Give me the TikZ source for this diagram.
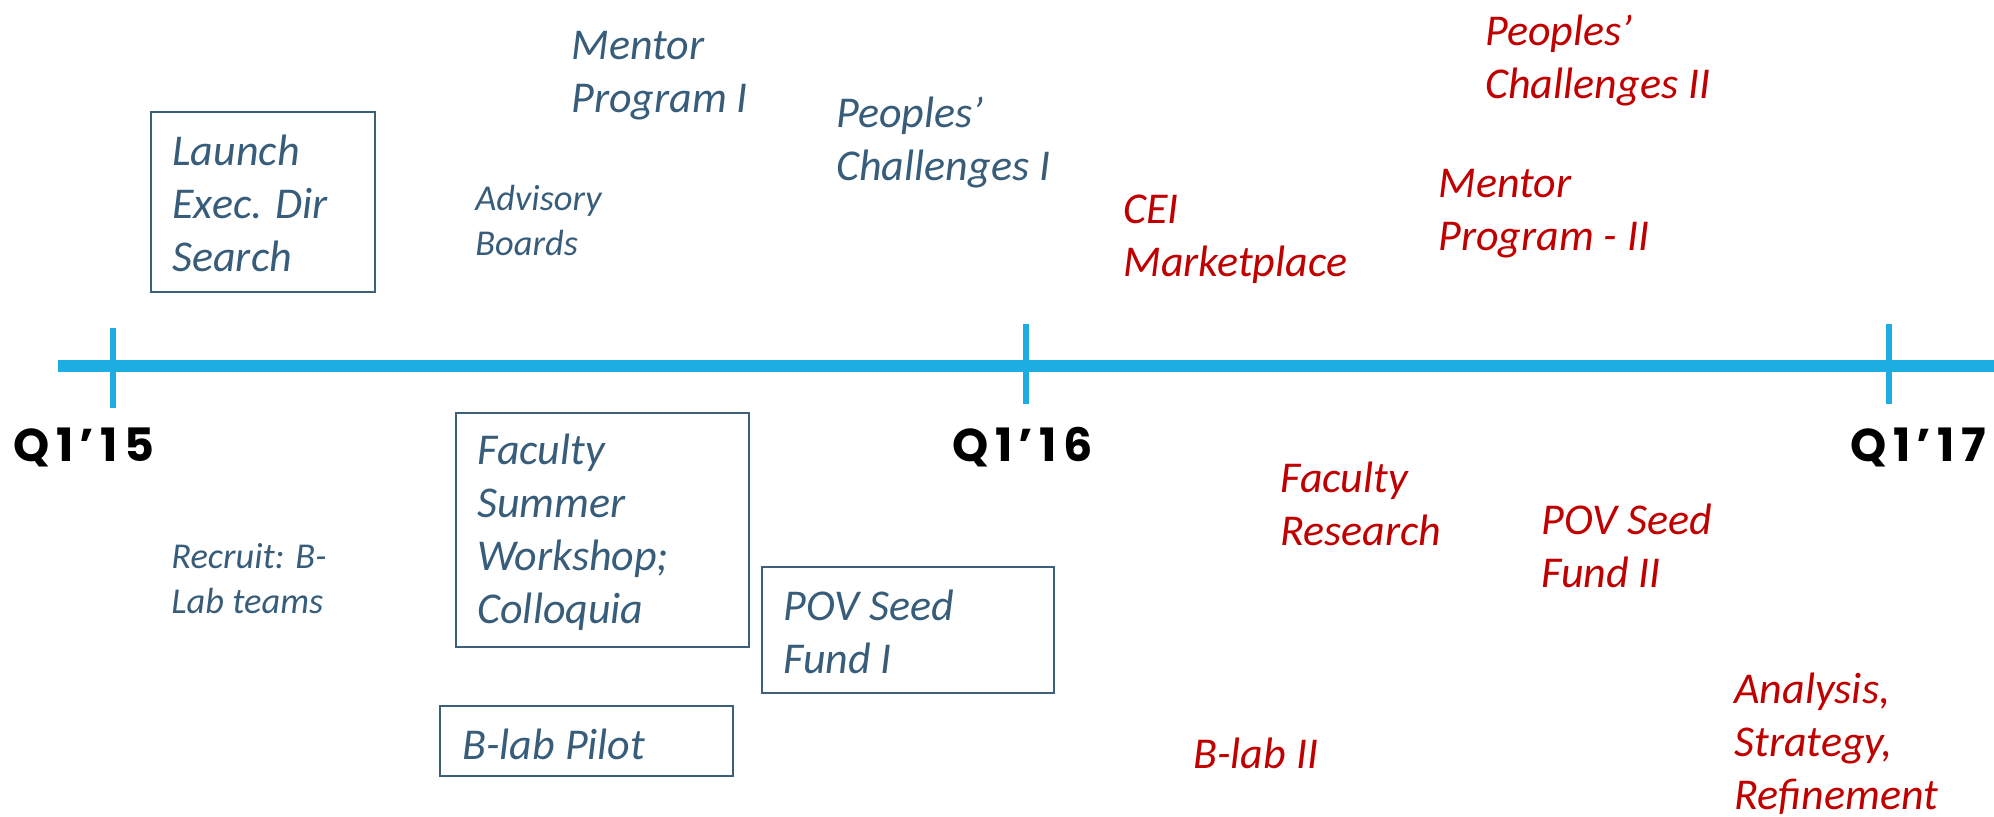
\documentclass[tikz,border=0pt]{standalone}
\usepackage{fontspec}
\setmainfont{Carlito}
\newfontfamily\qfont{Poppins}[BoldFont=* Bold, LetterSpace=14]
\definecolor{tblue}{RGB}{56,93,122}
\definecolor{bblue}{RGB}{60,96,122}
\definecolor{tred}{RGB}{192,0,0}
\definecolor{lineblue}{RGB}{30,173,227}
\tikzset{
  big/.style={inner sep=0pt, anchor=base west, font=\fontsize{22}{26.5}\selectfont\itshape},
  small/.style={inner sep=0pt, anchor=base west, font=\fontsize{18.2}{22.5}\selectfont\itshape},
  qlabel/.style={inner sep=0pt, anchor=base west, font=\fontsize{23}{26}\selectfont\qfont\bfseries, text=black},
  boxline/.style={draw=bblue, line width=1pt},
  axis/.style={draw=lineblue, line width=6.25pt},
  tick/.style={draw=lineblue, line width=3pt}
}
\begin{document}
\begin{tikzpicture}[x=0.5pt,y=-0.5pt]
\useasboundingbox (0,0) rectangle (1994,817);
% timeline
\coordinate (axL) at (58,366);
\coordinate (axR) at (1994,366);
\draw[axis] (axL) -- (axR);
\coordinate (t1a) at (113,328); \coordinate (t1b) at (113,408);
\coordinate (t2a) at (1026,324); \coordinate (t2b) at (1026,404);
\coordinate (t3a) at (1889,324); \coordinate (t3b) at (1889,404);
\draw[tick] (t1a) -- (t1b);
\draw[tick] (t2a) -- (t2b);
\draw[tick] (t3a) -- (t3b);
\node[qlabel] (q15) at (13,462) {Q1’15};
\node[qlabel] (q16) at (952,462) {Q1’16};
\node[qlabel] (q17) at (1850,462) {Q1’17};
% boxes
\draw[boxline] (151,112) rectangle (375,292);
\draw[boxline] (456,413) rectangle (749,647);
\draw[boxline] (440,706) rectangle (733,776);
\draw[boxline] (762,567) rectangle (1054,693);
% blue texts
\node[big, text=tblue] (launch) at (172,166) {\vtop{\hbox{Launch}\hbox{Exec. Dir}\hbox{Search}}};
\node[big, text=tblue] (fsw) at (477,465) {\vtop{\hbox{Faculty}\hbox{Summer}\hbox{Workshop;}\hbox{Colloquia}}};
\node[big, text=tblue] (blp) at (462,760) {B-lab Pilot};
\node[big, text=tblue] (pov1) at (783,621) {\vtop{\hbox{POV Seed}\hbox{Fund I}}};
\node[big, text=tblue] (mp1) at (571,60) {\vtop{\hbox{Mentor}\hbox{Program I}}};
\node[big, text=tblue] (pc1) at (836,128) {\vtop{\hbox{Peoples’}\hbox{Challenges I}}};
\node[small, text=tblue] (adv) at (475,211) {\vtop{\hbox{Advisory}\hbox{Boards}}};
\node[small, text=tblue] (rec) at (171,569) {\vtop{\hbox{Recruit: B-}\hbox{Lab teams}}};
% red texts
\node[big, text=tred] (cei) at (1123,224) {\vtop{\hbox{CEI}\hbox{Marketplace}}};
\node[big, text=tred] (mp2) at (1438,198) {\vtop{\hbox{Mentor}\hbox{Program - II}}};
\node[big, text=tred] (pc2) at (1485,46) {\vtop{\hbox{Peoples’}\hbox{Challenges II}}};
\node[big, text=tred] (fr) at (1280,493) {\vtop{\hbox{Faculty}\hbox{Research}}};
\node[big, text=tred] (pov2) at (1541,535) {\vtop{\hbox{POV Seed}\hbox{Fund II}}};
\node[big, text=tred] (bl2) at (1193,769) {B-lab II};
\node[big, text=tred] (ana) at (1734,704) {\vtop{\hbox{Analysis,}\hbox{Strategy,}\hbox{Refinement}}};
\end{tikzpicture}
\end{document}
